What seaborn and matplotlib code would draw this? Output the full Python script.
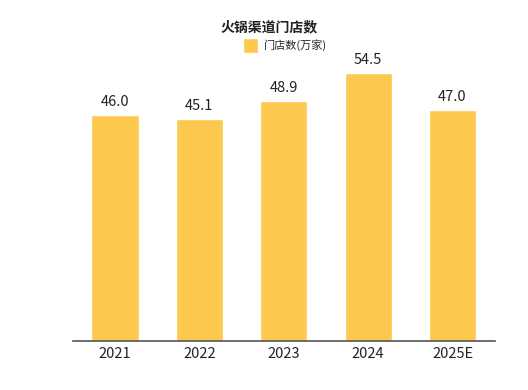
import pandas as pd
import seaborn as sns
import matplotlib.pyplot as plt

# Data
years = ['2021', '2022', '2023', '2024', '2025E']
stores = [46.0, 45.1, 48.9, 54.5, 47.0]
title = '火锅渠道门店数'
legend_label = '门店数(万家)'

df = pd.DataFrame({'year': years, 'stores': stores})

sns.set_style('white')
plt.rcParams['font.family'] = ['Noto Sans CJK SC', 'DejaVu Sans']

fig = plt.figure(figsize=(5.28, 3.9), dpi=100)
ax = fig.add_axes([0.138, 0.1256, 0.799, 0.797])

sns.barplot(data=df, x='year', y='stores', color='#FDC84E', width=0.56,
            saturation=1, ax=ax, label=legend_label)

for i, v in enumerate(stores):
    ax.text(i, v + 1.2, f'{v:.1f}', ha='center', va='bottom', fontsize=10.5, color='#222222')

ax.set_xlim(-0.5, 4.5)
ax.set_ylim(0, 63.2)
ax.set_xlabel('')
ax.set_ylabel('')
ax.set_yticks([])
ax.tick_params(axis='x', length=0, labelsize=10.5, colors='#222222', pad=4)
for s in ['top', 'right', 'left']:
    ax.spines[s].set_visible(False)
ax.spines['bottom'].set_color('#555555')
ax.spines['bottom'].set_linewidth(1.2)

fig.text(0.51, 0.93, title, ha='center', va='center', fontsize=10, fontweight='bold', color='#222222')
ax.legend(loc='center', bbox_to_anchor=(0.54, 0.883), bbox_transform=fig.transFigure,
          frameon=False, fontsize=8, handlelength=1.35, handleheight=1.6, handletextpad=0.6)

fig.savefig('out.png', dpi=100)
